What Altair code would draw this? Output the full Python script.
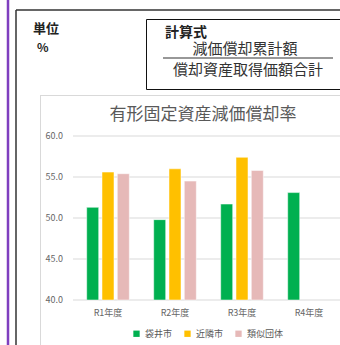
import altair as alt
import pandas as pd

categories = ["R1年度", "R2年度", "R3年度", "R4年度"]
series = ["袋井市", "近隣市", "類似団体"]
fukuroi = [51.3, 49.8, 51.7, 53.1]
kinrin = [55.6, 56.0, 57.4, None]
ruiji = [55.4, 54.5, 55.8, None]
y_ticks = [40.0, 45.0, 50.0, 55.0, 60.0]
colors = ["#00B050", "#FFC000", "#E6B9B8"]

FONT = "Noto Sans CJK JP"

rows = []
for s, vals in zip(series, [fukuroi, kinrin, ruiji]):
    for c, v in zip(categories, vals):
        if v is not None:
            rows.append({"cat": c, "series": s, "value": v})
df = pd.DataFrame(rows)
ticks_df = pd.DataFrame({"tick": y_ticks})
cats_df = pd.DataFrame({"cat": categories})

one = alt.Data(values=[{}])

yscale = alt.Scale(domain=[40, 60], range=[300, 136], zero=False, nice=False)
xscale = alt.Scale(domain=categories, range=[74.5, 342.5], paddingInner=0.364, paddingOuter=0.182)


def vrule(x, y1, y2, color, w):
    return alt.Chart(one).mark_rule(color=color, strokeWidth=w).encode(
        x=alt.value(x), y=alt.value(y1), y2=alt.value(y2))


def hrule(y, x1, x2, color, w):
    return alt.Chart(one).mark_rule(color=color, strokeWidth=w).encode(
        y=alt.value(y), x=alt.value(x1), x2=alt.value(x2))


def label(txt, x, y, size, color="#222222", weight="normal", align="left"):
    return alt.Chart(one).mark_text(text=txt, font=FONT, fontSize=size, color=color,
                                    fontWeight=weight, align=align, baseline="middle").encode(
        x=alt.value(x), y=alt.value(y))


purple = vrule(8, 0, 345, "#7F3FBF", 2.5)
frame_top = hrule(10, 16, 345, "#333333", 1.5)
frame_left = vrule(16, 10, 345, "#333333", 1.5)
box = alt.Chart(one).mark_rect(fillOpacity=0, stroke="#111111", strokeWidth=1).encode(
    x=alt.value(146.5), x2=alt.value(360), y=alt.value(19.5), y2=alt.value(89.5))
frac = hrule(58, 163, 333, "#333333", 1.2)
panel_top = hrule(95.5, 40, 345, "#D9D9D9", 1)
panel_left = vrule(40.5, 95, 345, "#D9D9D9", 1)

t_unit = label("単位", 33, 29, 13, weight="bold")
t_pct = label("%", 37, 47.5, 12, weight="bold")
t_calc = label("計算式", 165, 33, 14, weight="bold")
t_num = label("減価償却累計額", 245, 49, 15, color="#333333", align="center")
t_den = label("償却資産取得価額合計", 248, 70, 15, color="#333333", align="center")
t_title = label("有形固定資産減価償却率", 203, 115, 17, color="#595959", align="center")

grid = alt.Chart(ticks_df).mark_rule(color="#D9D9D9", strokeWidth=1).encode(
    y=alt.Y("tick:Q", scale=yscale, axis=None),
    x=alt.value(73), x2=alt.value(345))

ylabels = alt.Chart(ticks_df).mark_text(font=FONT, fontSize=9, color="#666666",
                                        align="right", baseline="middle").encode(
    y=alt.Y("tick:Q", scale=yscale, axis=None),
    x=alt.value(63),
    text=alt.Text("tick:Q", format=".1f"))

bars = alt.Chart(df).mark_bar(stroke="white", strokeWidth=0.5).encode(
    x=alt.X("cat:N", scale=xscale, axis=None, sort=categories),
    xOffset=alt.XOffset("series:N", sort=series,
                        scale=alt.Scale(domain=series, paddingInner=0.216, paddingOuter=0)),
    y=alt.Y("value:Q", scale=yscale, axis=None),
    y2=alt.datum(40),
    color=alt.Color("series:N", sort=series,
                    scale=alt.Scale(domain=series, range=colors),
                    legend=alt.Legend(orient="none", legendX=132, legendY=329,
                                      direction="horizontal", title=None,
                                      symbolType="square", symbolSize=40,
                                      symbolStrokeWidth=0, labelFont=FONT,
                                      labelFontSize=9, labelColor="#595959",
                                      labelOffset=4, columnPadding=10, padding=0)),
)

xlabels = alt.Chart(cats_df).mark_text(font=FONT, fontSize=9, color="#666666",
                                       baseline="middle").encode(
    x=alt.X("cat:N", scale=xscale, axis=None, sort=categories),
    y=alt.value(313),
    text="cat:N")

chart = alt.layer(
    purple, frame_top, frame_left, box, frac, panel_top, panel_left,
    t_unit, t_pct, t_calc, t_num, t_den, t_title,
    grid, ylabels, bars, xlabels,
).properties(
    width=340, height=345,
    padding=0,
    autosize=alt.AutoSizeParams(type="none"),
    background="white",
).configure_view(stroke=None)

chart.save("out.html", embed_options={"renderer": "svg", "actions": False})
